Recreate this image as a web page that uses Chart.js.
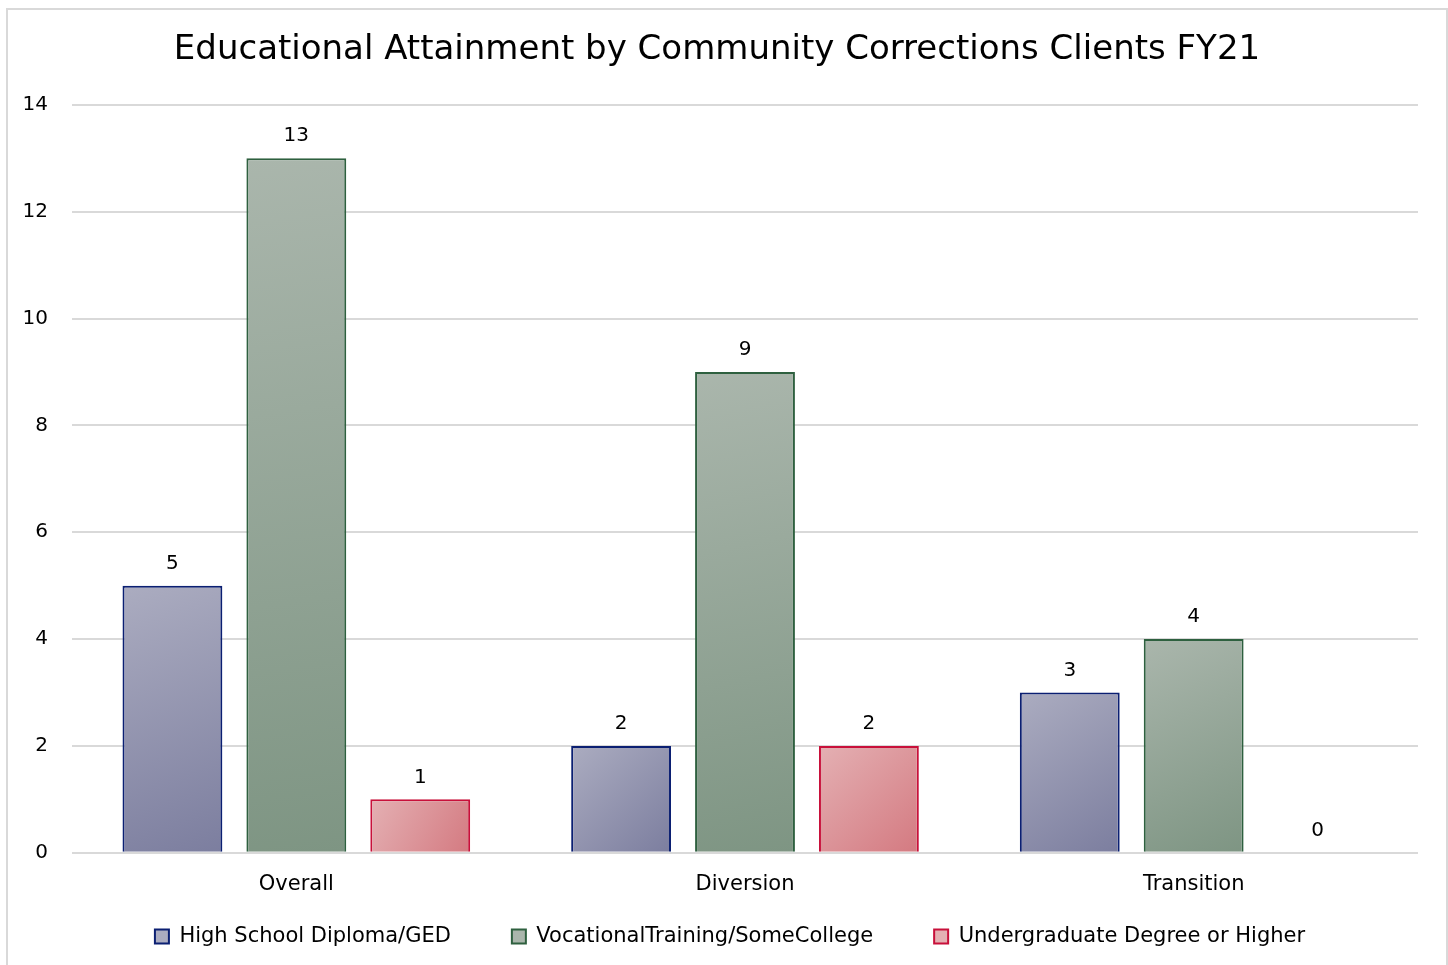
<!DOCTYPE html>
<html>
<head>
<meta charset="utf-8">
<script src="https://cdn.jsdelivr.net/npm/chart.js@4"></script>
<style>
  body { margin: 0; background: #fff; }
  #frame { position: absolute; left: 6px; top: 8px; width: 1438px; height: 957px;
           border: 2px solid #d9d9d9; border-bottom: none; }
  canvas { display: block; }
</style>
</head>
<body>
<div id="frame"><canvas id="edu-chart" width="1438" height="957"></canvas></div>
<script>
var categories = ["Overall", "Diversion", "Transition"];
var highSchool = [5, 2, 3];
var vocational = [13, 9, 4];
var undergrad = [1, 2, 0];
var seriesNames = ["High School Diploma/GED", "VocationalTraining/SomeCollege", "Undergraduate Degree or Higher"];
var yTicks = [0, 2, 4, 6, 8, 10, 12, 14];

var FONT = "'DejaVu Sans', Verdana, sans-serif";
var LEGEND_GAP = 61;
// light / dark gradient stops and border for each series
var looks = [
  { light: "#abacc0", dark: "#7c7e9f", border: "#0b1f72" },
  { light: "#aab6ac", dark: "#7e9583", border: "#2e603f" },
  { light: "#e4b0b3", dark: "#d47a81", border: "#c8103a" }
];

// paint each bar with its own diagonal gradient
var barGradients = {
  id: "barGradients",
  beforeDatasetsDraw: function(chart) {
    var ctx = chart.ctx;
    chart.data.datasets.forEach(function(ds, i) {
      var meta = chart.getDatasetMeta(i);
      meta.data.forEach(function(bar) {
        var p = bar.getProps(["x", "y", "base", "width"], true);
        var g = ctx.createLinearGradient(p.x - p.width / 2, p.y, p.x + p.width / 2, p.base);
        g.addColorStop(0, looks[i].light);
        g.addColorStop(1, looks[i].dark);
        bar.options.backgroundColor = g;
      });
    });
  }
};

// value labels above bars
var valueLabels = {
  id: "valueLabels",
  afterDatasetsDraw: function(chart) {
    var ctx = chart.ctx;
    ctx.save();
    ctx.font = "20px " + FONT;
    ctx.fillStyle = "#000";
    ctx.textAlign = "center";
    ctx.textBaseline = "bottom";
    chart.data.datasets.forEach(function(ds, i) {
      chart.getDatasetMeta(i).data.forEach(function(bar, j) {
        ctx.fillText(String(ds.data[j]), bar.x, bar.y - 12);
      });
    });
    ctx.restore();
  }
};

// legend: wide horizontal gaps, but keep it short vertically
var compactLegend = {
  id: "compactLegend",
  afterInit: function(chart) {
    var lg = chart.legend;
    if (!lg) return;
    var fit = lg.fit, draw = lg.draw;
    lg.fit = function() {
      fit.apply(this, arguments);
      this.height = 51;
    };
    lg.draw = function() {
      var t = this.top, l = this.left, r = this.right;
      this.top = t + 10 - LEGEND_GAP;
      this.left = l + 13;
      this.right = r + 13;
      draw.apply(this, arguments);
      this.top = t; this.left = l; this.right = r;
    };
  }
};

var sets = [highSchool, vocational, undergrad].map(function(vals, i) {
  return {
    label: seriesNames[i],
    data: vals,
    backgroundColor: function() { return looks[i].dark; },
    borderColor: looks[i].border,
    borderWidth: 2,
    borderSkipped: "bottom",
    categoryPercentage: 0.8285,
    barPercentage: 0.806
  };
});

var ctx = document.getElementById("edu-chart").getContext("2d");
var chart = new Chart(ctx, {
  type: "bar",
  data: { labels: categories, datasets: sets },
  plugins: [barGradients, valueLabels, compactLegend],
  options: {
    responsive: false,
    animation: false,
    layout: { padding: { left: 8, right: 28, top: 0, bottom: 0 } },
    plugins: {
      title: {
        display: true,
        text: "Educational Attainment by Community Corrections Clients FY21",
        color: "#000",
        font: { family: FONT, size: 34, weight: "normal" },
        padding: { top: 20, bottom: 34 }
      },
      legend: {
        position: "bottom",
        labels: {
          color: "#000",
          font: { family: FONT, size: 21 },
          boxWidth: 14,
          boxHeight: 14,
          padding: LEGEND_GAP,
          generateLabels: function(ch) {
            return ch.data.datasets.map(function(ds, i) {
              return { text: ds.label, fillStyle: looks[i].light, strokeStyle: looks[i].border,
                       lineWidth: 2, datasetIndex: i, fontColor: "#000" };
            });
          }
        }
      },
      tooltip: { enabled: false }
    },
    scales: {
      x: {
        grid: { display: false, drawTicks: false },
        border: { display: false },
        ticks: { color: "#000", font: { family: FONT, size: 21 }, padding: 19 }
      },
      y: {
        min: 0,
        max: 14,
        afterBuildTicks: function(axis) {
          axis.ticks = yTicks.map(function(v) { return { value: v }; });
        },
        afterFit: function(axis) { axis.width = 56; },
        grid: { color: "#d9d9d9", lineWidth: 2, drawTicks: false },
        border: { display: false },
        ticks: { color: "#000", font: { family: FONT, size: 20 }, padding: 24 }
      }
    }
  }
});
</script>
</body>
</html>
